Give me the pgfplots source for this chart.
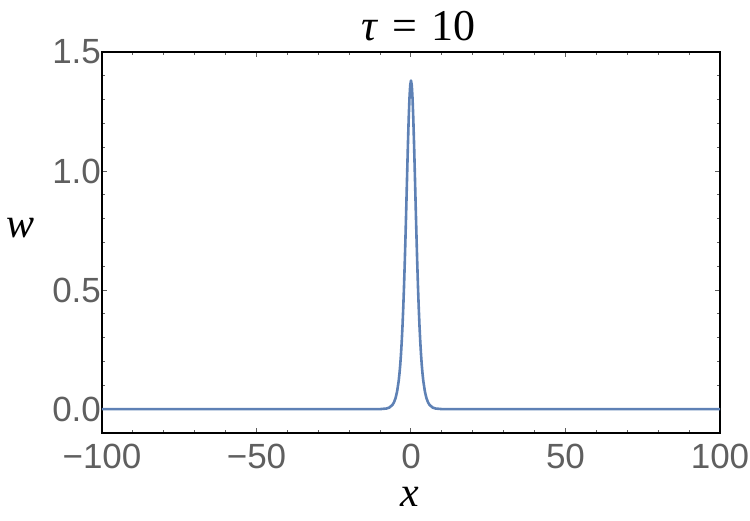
\documentclass[border=0pt]{standalone}
\usepackage{pgfplots}
\pgfplotsset{compat=1.18}
\usepackage{fontspec}
\setmainfont{Liberation Sans}
\newfontfamily\tms{Liberation Serif}
\definecolor{mma}{HTML}{5E81B5}
\definecolor{tickgray}{HTML}{5F5F5F}
\begin{document}
\begin{tikzpicture}
\begin{axis}[
  scale only axis, width=309pt, height=190.5pt,
  xmin=-100,xmax=100,ymin=-0.1,ymax=1.5,
  xtick={-100,-50,0,50,100},
  xticklabels={−100,−50,0,50,100},
  ytick={0,0.5,1,1.5},
  yticklabels={0.0,0.5,1.0,1.5},
  minor x tick num=4, minor y tick num=4,
  tick align=inside,
  major tick length=2.5pt, minor tick length=1.5pt,
  every tick/.style={tickgray, line width=0.5pt},
  axis line style={black, line width=0.6pt},
  ticklabel style={font=\fontsize{17.5}{17.5}\selectfont, text=tickgray},
  xticklabel style={yshift=-2pt},
  yticklabel style={xshift=3pt},
  clip=false,
]
\addplot[mma, line width=1.3pt, line join=round] coordinates {
(-100,0) (-15,0) (-10,0.0004) (-8,0.0027) (-7,0.0070) (-6,0.0181) (-5.5,0.0290) (-5,0.0464) (-4.5,0.0739) (-4,0.1171) (-3.75,0.1468) (-3.5,0.1836) (-3.25,0.2287) (-3,0.2835) (-2.75,0.3495) (-2.5,0.428) (-2.25,0.519) (-2,0.623) (-1.75,0.738) (-1.5,0.861) (-1.25,0.987) (-1,1.109) (-0.75,1.218) (-0.5,1.305) (-0.25,1.3606) (0,1.38)
(0.25,1.3606) (0.5,1.305) (0.75,1.218) (1,1.109) (1.25,0.987) (1.5,0.861) (1.75,0.738) (2,0.623) (2.25,0.519) (2.5,0.428) (2.75,0.3495) (3,0.2835) (3.25,0.2287) (3.5,0.1836) (3.75,0.1468) (4,0.1171) (4.5,0.0739) (5,0.0464) (5.5,0.0290) (6,0.0181) (7,0.0070) (8,0.0027) (10,0.0004) (15,0) (100,0)
};
\coordinate (bl) at (rel axis cs:0,0);
\coordinate (tr) at (rel axis cs:1,1);
\node[anchor=base, inner sep=0pt] at ([yshift=6pt]rel axis cs:0.512,1) {\tms\fontsize{22}{22}\selectfont\textit{τ}\hspace{7pt}=\hspace{7pt}10};
\node[anchor=base, inner sep=0pt] at ([xshift=-40.5pt]rel axis cs:0,0.512) {\tms\fontsize{21}{21}\selectfont\textit{w}};
\node[anchor=base, inner sep=0pt] at ([yshift=-36.5pt]rel axis cs:0.498,0) {\tms\fontsize{21}{21}\selectfont\textit{x}};
\end{axis}
\pgfresetboundingbox
\path[use as bounding box] ([xshift=-51pt,yshift=-43.5pt]bl) rectangle ([xshift=15pt,yshift=26pt]tr);
\end{tikzpicture}
\end{document}
